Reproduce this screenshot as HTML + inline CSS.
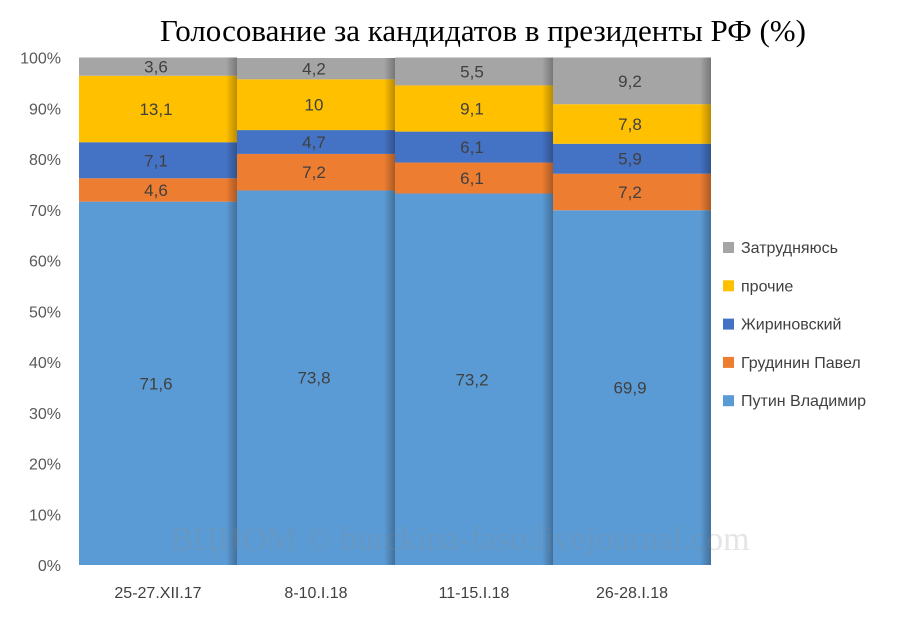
<!DOCTYPE html>
<html><head><meta charset="utf-8"><style>
body{margin:0;background:#fff;width:900px;height:617px;overflow:hidden}
text{font-family:"Liberation Sans","DejaVu Sans",sans-serif}
</style></head><body>
<svg id="chart" width="900" height="617" xmlns="http://www.w3.org/2000/svg">
<defs><linearGradient id="sh" x1="0" x2="1"><stop offset="0" stop-color="#000" stop-opacity="0"/><stop offset="1" stop-color="#000" stop-opacity="0.28"/></linearGradient></defs>
<text x="483" y="41" text-anchor="middle" font-size="31" fill="#000" style="font-family:'Liberation Serif','DejaVu Serif',serif">Голосование за кандидатов в президенты РФ (%)</text>
<g id="axis"></g><g id="bars"></g><g id="legend"></g>
<text x="460" y="550" text-anchor="middle" font-size="34" fill="#888" fill-opacity="0.22" style="font-family:'Liberation Serif',serif">ВЦИОМ © burckina-faso.livejournal.com</text>
</svg>
<script>
const categories=["25-27.XII.17","8-10.I.18","11-15.I.18","26-28.I.18"];
const seriesNames=["Путин Владимир","Грудинин Павел","Жириновский","прочие","Затрудняюсь"];
const putin=[71.6,73.8,73.2,69.9];
const grudinin=[4.6,7.2,6.1,7.2];
const zhirinovsky=[7.1,4.7,6.1,5.9];
const other=[13.1,10,9.1,7.8];
const undecided=[3.6,4.2,5.5,9.2];
const yTicks=[0,10,20,30,40,50,60,70,80,90,100];
const colors=["#5b9bd5","#ed7d31","#4472c4","#ffc000","#a5a5a5"];
const series=[putin,grudinin,zhirinovsky,other,undecided];
const NS="http://www.w3.org/2000/svg";
const X0=79,X1=711,Y0=565,Y1=57.5;
const bw=(X1-X0)/categories.length;
const y=v=>Y0-(v/100)*(Y0-Y1);
const x=i=>X0+i*bw;
function mk(t,a,p){const e=document.createElementNS(NS,t);for(const k in a)e.setAttribute(k,a[k]);p.appendChild(e);return e;}
const ax=document.getElementById('axis');
yTicks.forEach(t=>{const e=mk('text',{x:61,y:y(t)+6,'text-anchor':'end','font-size':16,fill:'#595959'},ax);e.textContent=t+'%';

});
categories.forEach((c,i)=>{const e=mk('text',{x:x(i)+bw/2,y:598,'text-anchor':'middle','font-size':16,fill:'#404040'},ax);e.textContent=c;

});
const bg=document.getElementById('bars');
categories.forEach((c,i)=>{let cum=0;
series.forEach((s,j)=>{const v=s[i];
const r=mk('rect',{x:x(i),y:y(cum+v),width:bw,height:y(cum)-y(cum+v),fill:colors[j]},bg);


const t=mk('text',{x:x(i)+bw/2-2,y:(y(cum)+y(cum+v))/2+6,'text-anchor':'middle','font-size':17,fill:'#404040'},bg);
t.textContent=String(v).replace('.',',');


cum+=v;});
const sh=mk('rect',{x:x(i)+bw-11,y:y(cum),width:11,height:Y0-y(cum),fill:'url(#sh)'},bg);


});
const lg=document.getElementById('legend');
for(let j=4;j>=0;j--){const ly=248+(4-j)*38.3;
const r=mk('rect',{x:723,y:ly-6,width:11,height:11,fill:colors[j]},lg);


const t=mk('text',{x:741,y:ly+5,'font-size':16,fill:'#404040'},lg);t.textContent=seriesNames[j];

}
</script>
</body></html>
